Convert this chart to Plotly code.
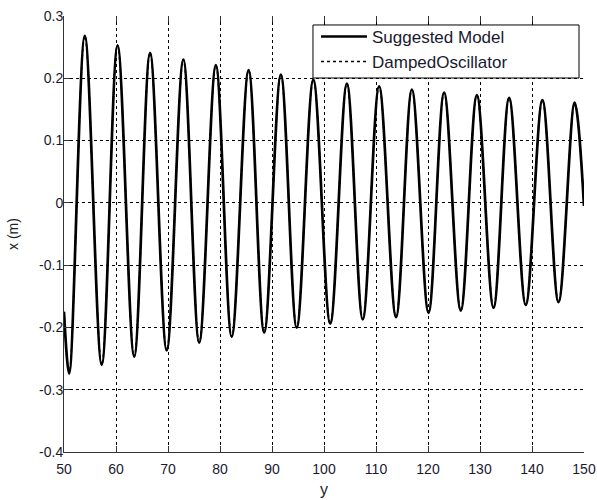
import plotly.graph_objects as go

# --- data (extrema of the oscillation) ---
x_vals = [50.0, 51.0, 54.0, 57.25, 60.3, 63.5, 66.55, 69.75, 72.95, 76.0, 79.2,
          82.25, 85.5, 88.5, 91.7, 94.75, 97.95, 101.2, 104.4, 107.45, 110.6,
          113.85, 116.9, 120.1, 123.1, 126.3, 129.4, 132.6, 135.6, 138.8, 142.0,
          145.1, 148.2, 150.0]
suggested_model = [-0.175, -0.274, 0.268, -0.260, 0.253, -0.247, 0.241, -0.237, 0.230,
                   -0.2245, 0.221, -0.215, 0.213, -0.2085, 0.206, -0.2005, 0.198,
                   -0.194, 0.1915, -0.187, 0.187, -0.1835, 0.182, -0.1765, 0.177,
                   -0.173, 0.173, -0.1685, 0.1685, -0.164, 0.165, -0.1595, 0.161, -0.005]
damped_oscillator = [-0.175, -0.274, 0.268, -0.260, 0.253, -0.247, 0.241, -0.237, 0.230,
                     -0.2245, 0.221, -0.215, 0.213, -0.2085, 0.206, -0.2005, 0.198,
                     -0.194, 0.1915, -0.187, 0.187, -0.1835, 0.182, -0.1765, 0.177,
                     -0.173, 0.173, -0.1685, 0.1685, -0.164, 0.165, -0.1595, 0.161, -0.005]

x_ticks = [50, 60, 70, 80, 90, 100, 110, 120, 130, 140, 150]
y_ticks = [-0.4, -0.3, -0.2, -0.1, 0, 0.1, 0.2, 0.3]
y_tick_text = ["-0.4", "-0.3", "-0.2", "-0.1", "0", "0.1", "0.2", "0.3"]

FONT = "Liberation Sans, Arial, sans-serif"

fig = go.Figure()
fig.add_trace(go.Scatter(
    x=x_vals, y=suggested_model, mode="lines", name="Suggested Model",
    line=dict(color="black", width=2.7, shape="spline", smoothing=1.0)))
fig.add_trace(go.Scatter(
    x=x_vals, y=damped_oscillator, mode="lines", name="DampedOscillator",
    line=dict(color="black", width=1.5, dash="dot", shape="spline", smoothing=1.0)))

# top ticks only (no solid line), mimicking MATLAB box
fig.add_trace(go.Scatter(x=[None], y=[None], xaxis="x2", showlegend=False, hoverinfo="skip"))

grid = dict(showgrid=True, gridcolor="black", gridwidth=1, griddash="3px,3px")

# legend frame (MATLAB-style wide box)
fig.add_shape(type="rect", xref="paper", yref="paper",
              x0=0.4788, x1=0.9904, y0=0.8578, y1=0.9794,
              line=dict(color="black", width=1), fillcolor="white", layer="above")

fig.update_layout(
    width=597, height=500,
    margin=dict(l=64, r=13, t=16, b=48),
    plot_bgcolor="white", paper_bgcolor="white",
    font=dict(family=FONT, size=14, color="#1a1a2e"),
    xaxis=dict(range=[50, 150], tickvals=x_ticks, ticks="inside", ticklen=6,
               tickcolor="#333", showline=True, linecolor="#333", linewidth=1,
               zeroline=False, automargin=False, ticklabelstandoff=4,
               ticklabeloverflow="allow",
               title=dict(text="y", standoff=8, font=dict(size=16, color="#222")),
               tickfont=dict(size=14), **grid),
    xaxis2=dict(range=[50, 150], tickvals=x_ticks, ticks="inside", ticklen=6,
                tickcolor="#333", overlaying="x", side="top", showticklabels=False,
                showline=False, showgrid=False, zeroline=False, automargin=False),
    yaxis=dict(range=[-0.4, 0.3], tickvals=y_ticks, ticktext=y_tick_text,
               ticks="inside", ticklen=6, tickcolor="#333", showline=True,
               linecolor="#333", linewidth=1, zeroline=False, automargin=False,
               ticklabelstandoff=-3, ticklabeloverflow="allow",
               title=dict(text="x (m)", standoff=17, font=dict(size=14, color="#222")),
               tickfont=dict(size=14), **grid),
    legend=dict(x=0.4846, y=0.9932, xanchor="left", yanchor="top",
                bgcolor="rgba(0,0,0,0)", borderwidth=0,
                font=dict(size=17, color="#1a1a2e"), itemwidth=46,
                tracegroupgap=0),
    showlegend=True,
)

fig.write_html("out.html", config={"displayModeBar": False},
               post_script="document.body.style.margin='0';document.body.style.overflow='hidden';")
